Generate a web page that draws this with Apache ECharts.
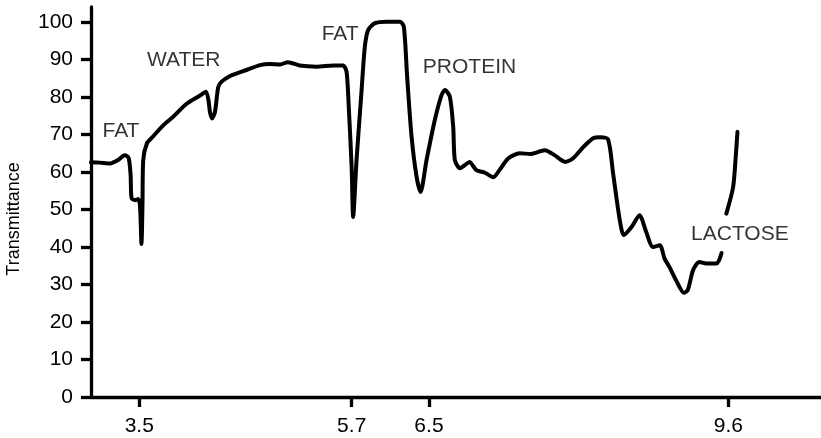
<!DOCTYPE html>
<html>
<head>
<meta charset="utf-8">
<script src="https://cdn.jsdelivr.net/npm/echarts@6.0.0/dist/echarts.min.js"></script>
<style>
  html, body { margin: 0; padding: 0; background: #fff; }
  #chart { width: 821px; height: 438px; }
</style>
</head>
<body>
<div id="chart"></div>
<script>
// wavelength (x) and transmittance (y); null marks the break under LACTOSE
var wavelength = [
  3.00, 3.09, 3.20, 3.28, 3.35, 3.39, 3.41, 3.42, 3.455, 3.487, 3.507, 3.523, 3.533, 3.541,
  3.58, 3.64, 3.75, 3.85, 3.99, 4.13, 4.19, 4.216, 4.232, 4.253, 4.284, 4.318, 4.353,
  4.44, 4.51, 4.61, 4.75, 4.85, 4.96, 5.04, 5.16, 5.34, 5.51, 5.61, 5.647, 5.671, 5.699,
  5.715, 5.75, 5.80, 5.836, 5.871, 5.94, 6.06, 6.20, 6.24, 6.274, 6.32, 6.372, 6.413,
  6.475, 6.56, 6.63, 6.665, 6.716, 6.751, 6.768, 6.82, 6.87, 6.92, 6.99, 7.08, 7.165,
  7.23, 7.32, 7.44, 7.55, 7.70, 7.80, 7.91, 7.99, 8.10, 8.20, 8.27, 8.355, 8.407, 8.476,
  8.518, 8.60, 8.68, 8.75, 8.82, 8.89, 8.94, 8.99, 9.06, 9.14, 9.18, 9.235, 9.30, 9.37,
  9.48, 9.53, 9.555, 9.58, 9.65, 9.677, 9.695
];
var transmittance = [
  62.6, 62.5, 62.3, 63.2, 64.5, 63.7, 59.2, 53.0, 52.5, 52.8, 51.2, 40.8, 51.2, 63.2,
  67.7, 69.4, 72.5, 74.7, 78.2, 80.4, 81.4, 79.2, 76.0, 74.3, 76.0, 82.7, 84.1,
  85.6, 86.3, 87.2, 88.5, 88.8, 88.7, 89.3, 88.4, 88.1, 88.4, 88.4, 86.7, 76.5, 61.4,
  48.0, 63.2, 81.0, 93.4, 97.9, 99.7, 100.1, 100.1, 98.7, 85.4, 69.4, 58.7, 54.7,
  63.2, 73.8, 80.5, 81.9, 80.1, 72.1, 63.2, 61.0, 61.8, 62.7, 60.5, 59.8, 58.6,
  60.5, 63.6, 65.0, 64.8, 65.8, 64.5, 62.7, 63.6, 66.7, 69.0, 69.3, 68.7, 59.6, 47.2,
  43.2, 45.4, 48.5, 44.0, 40.0, 40.5, 36.9, 34.7, 31.1, 27.8, 28.5, 33.8, 36.0, 35.6,
  35.6, 38.4, null, 48.9, 56.0, 64.1, 70.7
];

var xTickValues = [3.5, 5.7, 6.5, 9.6];
var yTickValues = [0, 10, 20, 30, 40, 50, 60, 70, 80, 90, 100];

// band labels placed at their spot in data space
var bandNames = ['FAT', 'WATER', 'FAT', 'PROTEIN', 'LACTOSE'];
var bandX = [3.31, 3.96, 5.58, 6.92, 9.72];
var bandY = [70.9, 89.9, 96.8, 88.0, 43.4];

var FONT = "'Liberation Sans', Arial, Helvetica, sans-serif";

var curve = wavelength.map(function (w, i) {
  return [w, transmittance[i]];
});
var bands = bandNames.map(function (n, i) {
  return { value: [bandX[i], bandY[i]], name: n };
});

var chart = echarts.init(document.getElementById('chart'), null, { renderer: 'canvas' });
chart.setOption({
  animation: false,
  backgroundColor: '#fff',
  grid: {
    left: 91,
    right: 0,
    top: 7,
    bottom: 41,
    outerBoundsMode: 'none'
  },
  xAxis: {
    type: 'value',
    min: 3.0,
    max: 10.56,
    splitLine: { show: false },
    axisLine: { show: true, lineStyle: { color: '#000', width: 3.3 } },
    axisTick: {
      show: true,
      customValues: xTickValues,
      length: 10,
      lineStyle: { color: '#000', width: 3.3 }
    },
    axisLabel: {
      customValues: xTickValues,
      margin: 19,
      color: '#000',
      fontSize: 21,
      fontFamily: FONT,
      formatter: function (v) { return v.toFixed(1); }
    }
  },
  yAxis: {
    type: 'value',
    min: 0,
    max: 104,
    splitLine: { show: false },
    axisLine: { show: true, lineStyle: { color: '#000', width: 3.3 } },
    axisTick: {
      show: true,
      customValues: yTickValues,
      length: 10,
      lineStyle: { color: '#000', width: 3.3 }
    },
    axisLabel: {
      customValues: yTickValues,
      margin: 18,
      color: '#000',
      fontSize: 21,
      fontFamily: FONT
    }
  },
  graphic: [{
    type: 'text',
    x: 14,
    y: 219,
    rotation: Math.PI / 2,
    style: {
      text: 'Transmittance',
      fill: '#000',
      font: '18px ' + FONT,
      textAlign: 'center',
      textVerticalAlign: 'middle'
    }
  }],
  series: [
    {
      type: 'line',
      data: curve,
      showSymbol: false,
      connectNulls: false,
      smooth: 0.25,
      lineStyle: { color: '#000', width: 4, join: 'round', cap: 'round' },
      silent: true
    },
    {
      type: 'scatter',
      data: bands,
      symbolSize: 0,
      silent: true,
      label: {
        show: true,
        position: 'inside',
        formatter: '{b}',
        color: '#000',
        fontSize: 21,
        fontFamily: FONT
      }
    }
  ]
});
</script>
</body>
</html>
